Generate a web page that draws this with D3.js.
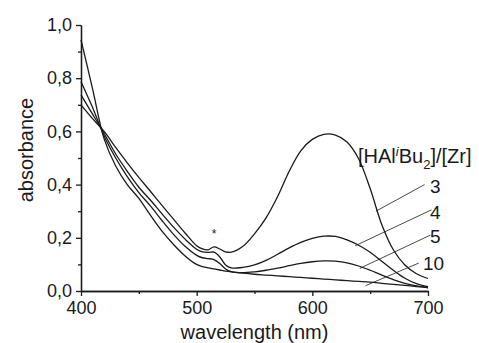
<!DOCTYPE html>
<html>
<head>
<meta charset="utf-8">
<script src="https://cdn.jsdelivr.net/npm/d3@7"></script>
<style>
  body { margin: 0; background: #fff; }
  text { font-family: "Liberation Sans", Arial, sans-serif; fill: #1a1a1a; }
  .axis path, .axis line { stroke: #1a1a1a; stroke-width: 1.3; }
  .curve { fill: none; stroke: #1a1a1a; stroke-width: 1.3; }
  .leader { stroke: #1a1a1a; stroke-width: 0.8; }
</style>
</head>
<body>
<script>
//wavelength grid (nm) shared by every spectrum
var wavelengths = [400,410,420,430,440,450,460,470,480,490,500,505,510,515,520,525,530,540,550,560,570,580,590,600,610,620,630,640,650,660,670,680,690,700];

//absorbance for each [HAliBu2]/[Zr] ratio
var abs3  = [0.700,0.648,0.600,0.540,0.482,0.427,0.375,0.322,0.270,0.218,0.170,0.158,0.155,0.166,0.158,0.147,0.146,0.168,0.215,0.275,0.355,0.450,0.527,0.570,0.589,0.586,0.560,0.497,0.385,0.250,0.155,0.098,0.065,0.047];
var abs4  = [0.737,0.665,0.592,0.515,0.450,0.390,0.342,0.290,0.240,0.195,0.157,0.147,0.145,0.146,0.128,0.098,0.087,0.089,0.098,0.115,0.138,0.162,0.183,0.198,0.206,0.205,0.192,0.172,0.146,0.112,0.078,0.048,0.028,0.016];
var abs5  = [0.787,0.690,0.583,0.500,0.430,0.370,0.320,0.265,0.213,0.168,0.134,0.125,0.122,0.118,0.103,0.083,0.073,0.069,0.072,0.078,0.086,0.095,0.104,0.110,0.113,0.112,0.106,0.094,0.078,0.060,0.043,0.029,0.019,0.012];
var abs10 = [0.944,0.760,0.572,0.470,0.400,0.348,0.285,0.225,0.175,0.132,0.100,0.092,0.087,0.083,0.079,0.075,0.072,0.067,0.063,0.060,0.057,0.054,0.051,0.048,0.045,0.042,0.039,0.036,0.033,0.029,0.025,0.021,0.017,0.013];

var ratioLabels = ["3", "4", "5", "10"];
var xTicks = [400, 500, 600, 700];
var xMinorTicks = [450, 550, 650];
var yTicks = [0, 0.2, 0.4, 0.6, 0.8, 1.0];
var yMinorTicks = [0.1, 0.3, 0.5, 0.7, 0.9];

//leader lines: start on curve [nm, abs], end near label [nm, abs]
var leaderStart = [[655, 0.30], [637, 0.17], [641, 0.085], [646, 0.02]];
var leaderEnd   = [[697, 0.40], [703, 0.305], [702, 0.21], [692, 0.105]];

//svg dimensions
var w = 479, h = 343;
var margin = {top: 25, right: 51, bottom: 52, left: 81};

var svg = d3.select("body")
    .append("svg")
    .attr("width", w)
    .attr("height", h);

var x = d3.scaleLinear()
    .domain([400, 700])
    .range([margin.left, w - margin.right]);

var y = d3.scaleLinear()
    .domain([0, 1.0])
    .range([h - margin.bottom, margin.top]);

var comma = function(d){
    return d3.format(".1f")(d).replace(".", ",");
};

//minor ticks first so the main axis sits on top
svg.append("g")
    .attr("class", "axis")
    .attr("transform", "translate(0," + y(0) + ")")
    .call(d3.axisBottom(x).tickValues(xMinorTicks).tickSize(3).tickSizeOuter(0).tickFormat(""));

svg.append("g")
    .attr("class", "axis")
    .attr("transform", "translate(" + x(400) + ",0)")
    .call(d3.axisLeft(y).tickValues(yMinorTicks).tickSize(3).tickSizeOuter(0).tickFormat(""));

var xAxis = svg.append("g")
    .attr("class", "axis")
    .attr("transform", "translate(0," + y(0) + ")")
    .call(d3.axisBottom(x).tickValues(xTicks).tickSize(5).tickSizeOuter(0).tickPadding(5));

var yAxis = svg.append("g")
    .attr("class", "axis")
    .attr("transform", "translate(" + x(400) + ",0)")
    .call(d3.axisLeft(y).tickValues(yTicks).tickSize(5).tickSizeOuter(0).tickPadding(4).tickFormat(comma));

svg.selectAll(".axis text")
    .style("font-size", "18px")
    .style("font-family", "'Liberation Sans', Arial, sans-serif")
    .attr("fill", "#1a1a1a");

//axis titles
svg.append("text")
    .attr("text-anchor", "middle")
    .attr("x", x(550))
    .attr("y", 339)
    .style("font-size", "20px")
    .text("wavelength (nm)");

svg.append("text")
    .attr("text-anchor", "middle")
    .attr("transform", "translate(33," + y(0.53) + ") rotate(-90)")
    .style("font-size", "20px")
    .text("absorbance");

//spectra
var series = [abs3, abs4, abs5, abs10];

var line = d3.line()
    .x(function(d, i){ return x(wavelengths[i]); })
    .y(function(d){ return y(d); })
    .curve(d3.curveCatmullRom.alpha(0.5));

svg.selectAll(".curve")
    .data(series)
    .enter()
    .append("path")
    .attr("class", "curve")
    .attr("d", line);

//asterisk over the 515 nm feature
svg.append("text")
    .attr("text-anchor", "middle")
    .attr("x", x(515))
    .attr("y", y(0.2))
    .style("font-size", "12px")
    .text("*");

//leader lines to ratio labels
svg.selectAll(".leader")
    .data(leaderStart)
    .enter()
    .append("line")
    .attr("class", "leader")
    .attr("x1", function(d){ return x(d[0]); })
    .attr("y1", function(d){ return y(d[1]); })
    .attr("x2", function(d, i){ return x(leaderEnd[i][0]); })
    .attr("y2", function(d, i){ return y(leaderEnd[i][1]); });

svg.selectAll(".ratio")
    .data(ratioLabels)
    .enter()
    .append("text")
    .attr("class", "ratio")
    .attr("x", function(d, i){ return i == 3 ? 423 : 430; })
    .attr("y", function(d, i){ return [193, 219, 243, 270][i]; })
    .style("font-size", "19px")
    .text(function(d){ return d; });

//legend header [HAl^iBu_2]/[Zr]
var head = svg.append("text")
    .attr("x", 358)
    .attr("y", 163)
    .style("font-size", "20px");
head.append("tspan").text("[HAl");
head.append("tspan").attr("dy", -7).style("font-size", "13px").style("font-style", "italic").text("i");
head.append("tspan").attr("dy", 7).text("Bu");
head.append("tspan").attr("dy", 6).style("font-size", "13px").text("2");
head.append("tspan").attr("dy", -6).text("]/[Zr]");
</script>
</body>
</html>
